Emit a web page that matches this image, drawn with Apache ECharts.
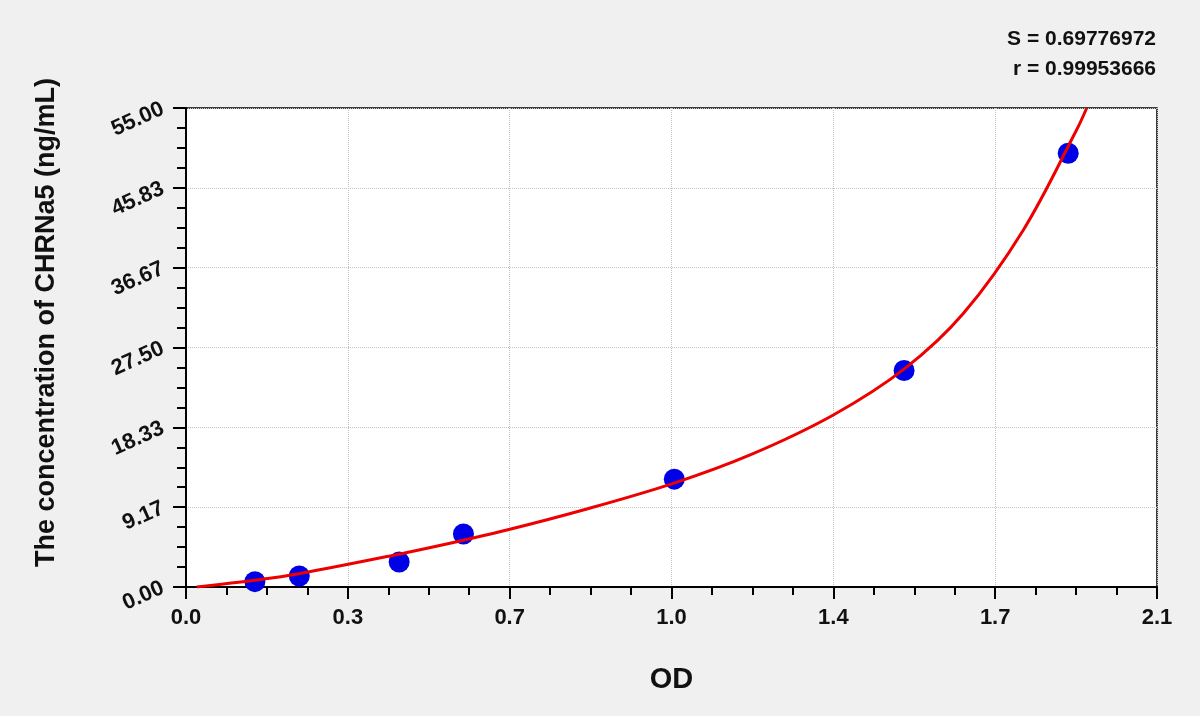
<!DOCTYPE html>
<html>
<head>
<meta charset="utf-8">
<title>CHRNa5 standard curve</title>
<script src="https://cdn.jsdelivr.net/npm/echarts@6/dist/echarts.min.js"></script>
<style>
  html, body { margin: 0; padding: 0; background: #f0f0f0; }
  #chart { width: 1200px; height: 716px; }
</style>
</head>
<body>
<div id="chart"></div>
<script>
// measured standards (OD, concentration)
const pointOD = [0.149, 0.245, 0.461, 0.600, 1.056, 1.553, 1.908]
const pointConc = [0.61, 1.26, 2.87, 6.08, 12.38, 24.86, 49.80]

// fitted curve
const curveOD = [0.023, 0.153, 0.247, 0.463, 0.571, 0.694, 0.859, 1.054, 1.220, 1.400, 1.555, 1.681, 1.811, 1.926, 1.948]
const curveConc = [0.0, 0.80, 1.55, 3.80, 5.02, 6.54, 8.84, 11.90, 15.16, 19.75, 25.1, 31.4, 41.0, 52.47, 55.0]

const xTickLabels = ['0.0', '0.3', '0.7', '1.0', '1.4', '1.7', '2.1']
const yTickLabels = ['0.00', '9.17', '18.33', '27.50', '36.67', '45.83', '55.00']

const statLines = ['S = 0.69776972', 'r = 0.99953666']

const xStep = 0.35
const yStep = 55 / 6
const font = 'Liberation Sans, Arial, sans-serif'

const chart = echarts.init(document.getElementById('chart'))

const option = {
  backgroundColor: '#f0f0f0',
  animation: false,
  grid: {
    left: 186, right: 43, top: 108, bottom: 129,
    show: true,
    backgroundColor: '#ffffff',
    borderColor: '#000000',
    borderWidth: 1.5
  },
  graphic: statLines.map((t, i) => ({
    type: 'text',
    right: 44,
    top: 29 + i * 30,
    style: {
      text: t,
      fill: '#111111',
      font: 'bold 21px ' + font,
      textAlign: 'right'
    }
  })),
  xAxis: {
    type: 'value',
    min: 0,
    max: 2.1,
    interval: xStep,
    name: 'OD',
    nameLocation: 'middle',
    nameGap: 78,
    nameTextStyle: { fontFamily: font, fontWeight: 'bold', fontSize: 29, color: '#111111' },
    axisLine: { show: true, lineStyle: { color: '#000000', width: 2 } },
    axisTick: { show: true, length: 12, lineStyle: { color: '#000000', width: 2 } },
    minorTick: { show: true, splitNumber: 4, length: 8, lineStyle: { color: '#000000', width: 2 } },
    axisLabel: {
      margin: 20,
      fontFamily: font,
      fontWeight: 'bold',
      fontSize: 22,
      color: '#111111',
      formatter: v => xTickLabels[Math.round(v / xStep)]
    },
    splitLine: { show: true, lineStyle: { color: '#c4c4c4', type: 'dotted', width: 1 } }
  },
  yAxis: {
    type: 'value',
    min: 0,
    max: 55,
    interval: yStep,
    name: 'The concentration of CHRNa5 (ng/mL)',
    nameLocation: 'middle',
    nameGap: 126,
    nameTextStyle: {
      fontFamily: font, fontWeight: 'bold', fontSize: 27, color: '#111111',
      padding: [0, 0, 0, 50]
    },
    axisLine: { show: true, lineStyle: { color: '#000000', width: 2 } },
    axisTick: { show: true, length: 13, lineStyle: { color: '#000000', width: 2 } },
    minorTick: { show: true, splitNumber: 4, length: 9, lineStyle: { color: '#000000', width: 2 } },
    axisLabel: {
      margin: 23,
      rotate: 24,
      fontFamily: font,
      fontWeight: 'bold',
      fontSize: 22,
      color: '#111111',
      formatter: v => yTickLabels[Math.round(v / yStep)]
    },
    splitLine: { show: true, lineStyle: { color: '#c4c4c4', type: 'dotted', width: 1 } }
  },
  series: [
    {
      type: 'scatter',
      data: pointOD.map((x, i) => [x, pointConc[i]]),
      symbol: 'circle',
      symbolSize: 21,
      itemStyle: { color: '#0000e6', opacity: 1 },
      z: 2
    },
    {
      type: 'line',
      data: curveOD.map((x, i) => [x, curveConc[i]]),
      smooth: 0.35,
      showSymbol: false,
      clip: true,
      lineStyle: { color: '#ee0000', width: 3 },
      z: 3
    }
  ]
}

chart.setOption(option)
</script>
</body>
</html>
